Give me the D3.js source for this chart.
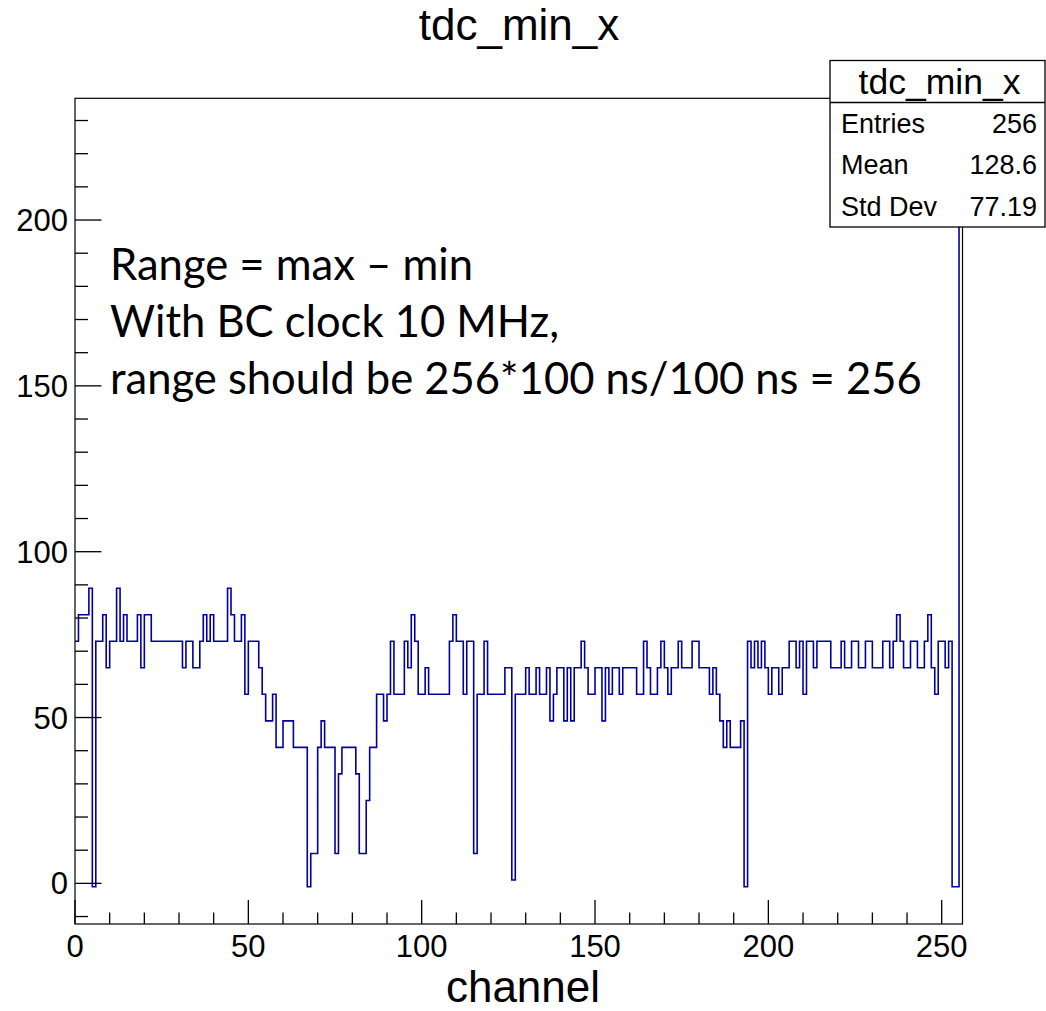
<!DOCTYPE html>
<html>
<head>
<meta charset="utf-8">
<script src="https://cdn.jsdelivr.net/npm/d3@7"></script>
<style>
  body { margin: 0; background: #fff; }
  svg { display: block; }
</style>
</head>
<body>
<svg width="1046" height="1011"></svg>
<script>
// channel contents, one value per bin (bins 0..255)
let counts = [
  73, 81, 81, 81, 89, -1, 73, 73, 81, 65, 73, 73, 89, 73, 81, 73,
  73, 73, 81, 65, 81, 81, 73, 73, 73, 73, 73, 73, 73, 73, 73, 65,
  73, 73, 65, 65, 73, 81, 73, 81, 73, 73, 73, 73, 89, 81, 73, 73,
  81, 57, 73, 73, 73, 65, 57, 49, 49, 57, 41, 41, 49, 49, 49, 41,
  41, 41, 41, -1, 9, 9, 41, 49, 41, 41, 41, 9, 33, 41, 41, 41,
  41, 33, 9, 9, 25, 41, 41, 57, 57, 49, 57, 73, 57, 57, 57, 73,
  65, 81, 73, 57, 57, 65, 57, 57, 57, 57, 57, 57, 73, 81, 73, 73,
  57, 73, 73, 9, 57, 57, 73, 57, 57, 57, 57, 57, 65, 65, 1, 57,
  57, 57, 65, 57, 57, 65, 57, 57, 65, 49, 57, 65, 65, 49, 65, 49,
  65, 65, 73, 65, 57, 57, 65, 65, 49, 65, 57, 65, 65, 57, 65, 65,
  65, 65, 57, 57, 73, 65, 57, 57, 65, 73, 65, 57, 65, 65, 73, 65,
  65, 65, 73, 73, 65, 65, 65, 57, 65, 57, 49, 41, 49, 41, 41, 41,
  49, -1, 73, 65, 73, 65, 73, 65, 57, 65, 65, 57, 65, 65, 73, 73,
  65, 73, 57, 73, 73, 65, 73, 73, 73, 73, 65, 65, 65, 73, 65, 65,
  73, 73, 65, 65, 73, 73, 65, 65, 65, 73, 73, 65, 73, 81, 73, 65,
  65, 73, 73, 65, 65, 73, 81, 65, 57, 73, 73, 65, 73, -1, -1, 225
]

let xTicks = [0, 50, 100, 150, 200, 250]
let yTicks = [0, 50, 100, 150, 200]
let statsLabels = ['Entries', 'Mean', 'Std Dev']
let statsValues = ['256', '128.6', '77.19']
let noteLines = [
  'Range = max \u2013 min',
  'With BC clock 10 MHz,',
  'range should be 256*100 ns/100 ns = 256'
]

let frame = {left: 75, right: 962.5, top: 98.3, bottom: 924}
let font = 'Liberation Sans, Arial, Helvetica, sans-serif'

let svg = d3.select('svg')

let x = d3.scaleLinear().domain([0, 256]).range([frame.left, frame.right])
let y = d3.scaleLinear().domain([-12.25, 236.7]).range([frame.bottom, frame.top])

// title
svg.append('text')
  .attr('x', 519).attr('y', 40)
  .attr('text-anchor', 'middle')
  .attr('font-family', font).attr('font-size', 44)
  .text('tdc_min_x')

svg.append('clipPath').attr('id', 'clip')
  .append('rect')
  .attr('x', frame.left).attr('y', frame.top)
  .attr('width', frame.right - frame.left)
  .attr('height', frame.bottom - frame.top)

// histogram outline
let pts = counts.map((v, i) => [i, v])
pts.push([256, counts[counts.length - 1]])
let line = d3.line()
  .x(d => x(d[0]))
  .y(d => y(d[1]))
  .curve(d3.curveStepAfter)

svg.append('path')
  .attr('d', line(pts))
  .attr('clip-path', 'url(#clip)')
  .attr('fill', 'none')
  .attr('stroke', '#0000a0')
  .attr('stroke-width', 1.6)

// frame
svg.append('rect')
  .attr('x', frame.left).attr('y', frame.top)
  .attr('width', frame.right - frame.left)
  .attr('height', frame.bottom - frame.top)
  .attr('fill', 'none')
  .attr('stroke', '#000')
  .attr('stroke-width', 1.2)

// x axis
let xMinor = d3.range(0, 257, 10).filter(v => v % 50 !== 0)
let gx = svg.append('g').attr('stroke', '#000').attr('stroke-width', 1.3)
gx.selectAll('.maj').data(xTicks).join('line')
  .attr('x1', d => x(d)).attr('x2', d => x(d))
  .attr('y1', frame.bottom).attr('y2', frame.bottom - 24)
gx.selectAll('.min').data(xMinor).join('line')
  .attr('x1', d => x(d)).attr('x2', d => x(d))
  .attr('y1', frame.bottom).attr('y2', frame.bottom - 11.5)

svg.append('g').selectAll('text').data(xTicks).join('text')
  .attr('x', d => x(d)).attr('y', 957)
  .attr('text-anchor', 'middle')
  .attr('font-family', font).attr('font-size', 31)
  .text(d => d)

svg.append('text')
  .attr('x', 523).attr('y', 1002)
  .attr('text-anchor', 'middle')
  .attr('font-family', font).attr('font-size', 44)
  .text('channel')

// y axis
let yMinor = d3.range(-10, 237, 10).filter(v => v % 50 !== 0)
let gy = svg.append('g').attr('stroke', '#000').attr('stroke-width', 1.3)
gy.selectAll('.maj').data(yTicks).join('line')
  .attr('x1', frame.left).attr('x2', frame.left + 26.5)
  .attr('y1', d => y(d)).attr('y2', d => y(d))
gy.selectAll('.min').data(yMinor).join('line')
  .attr('x1', frame.left).attr('x2', frame.left + 13)
  .attr('y1', d => y(d)).attr('y2', d => y(d))

svg.append('g').selectAll('text').data(yTicks).join('text')
  .attr('x', 68).attr('y', d => y(d) + 11)
  .attr('text-anchor', 'end')
  .attr('font-family', font).attr('font-size', 31)
  .text(d => d)

// annotation
let note = svg.append('g').selectAll('text').data(noteLines).join('text')
  .attr('x', 110).attr('y', (d, i) => 280 + i * 57)
  .attr('font-family', 'Lato, Carlito, sans-serif').attr('font-size', 40)
  .text(d => d)
// fit the long line to the width seen in the original
let w = note.nodes()[2].getComputedTextLength()
note.attr('font-size', 40 * 812 / w)

// stats box
let box = {x: 830, y: 60.5, w: 215, h: 166.5, head: 42}
let rowH = (box.h - box.head) / statsLabels.length
let gs = svg.append('g')
gs.append('rect')
  .attr('x', box.x).attr('y', box.y).attr('width', box.w).attr('height', box.h)
  .attr('fill', '#fff').attr('stroke', '#000').attr('stroke-width', 1.3)
gs.append('line')
  .attr('x1', box.x).attr('x2', box.x + box.w)
  .attr('y1', box.y + box.head).attr('y2', box.y + box.head)
  .attr('stroke', '#000').attr('stroke-width', 1.3)
gs.append('text')
  .attr('x', box.x + box.w / 2 + 2).attr('y', box.y + 33)
  .attr('text-anchor', 'middle')
  .attr('font-family', font).attr('font-size', 35.5)
  .text('tdc_min_x')
gs.selectAll('.lab').data(statsLabels).join('text')
  .attr('x', box.x + 11)
  .attr('y', (d, i) => box.y + box.head + rowH * (i + 0.5) + 9.5)
  .attr('font-family', font).attr('font-size', 27)
  .text(d => d)
gs.selectAll('.val').data(statsValues).join('text')
  .attr('x', box.x + box.w - 8)
  .attr('y', (d, i) => box.y + box.head + rowH * (i + 0.5) + 9.5)
  .attr('text-anchor', 'end')
  .attr('font-family', font).attr('font-size', 27)
  .text(d => d)
</script>
</body>
</html>
